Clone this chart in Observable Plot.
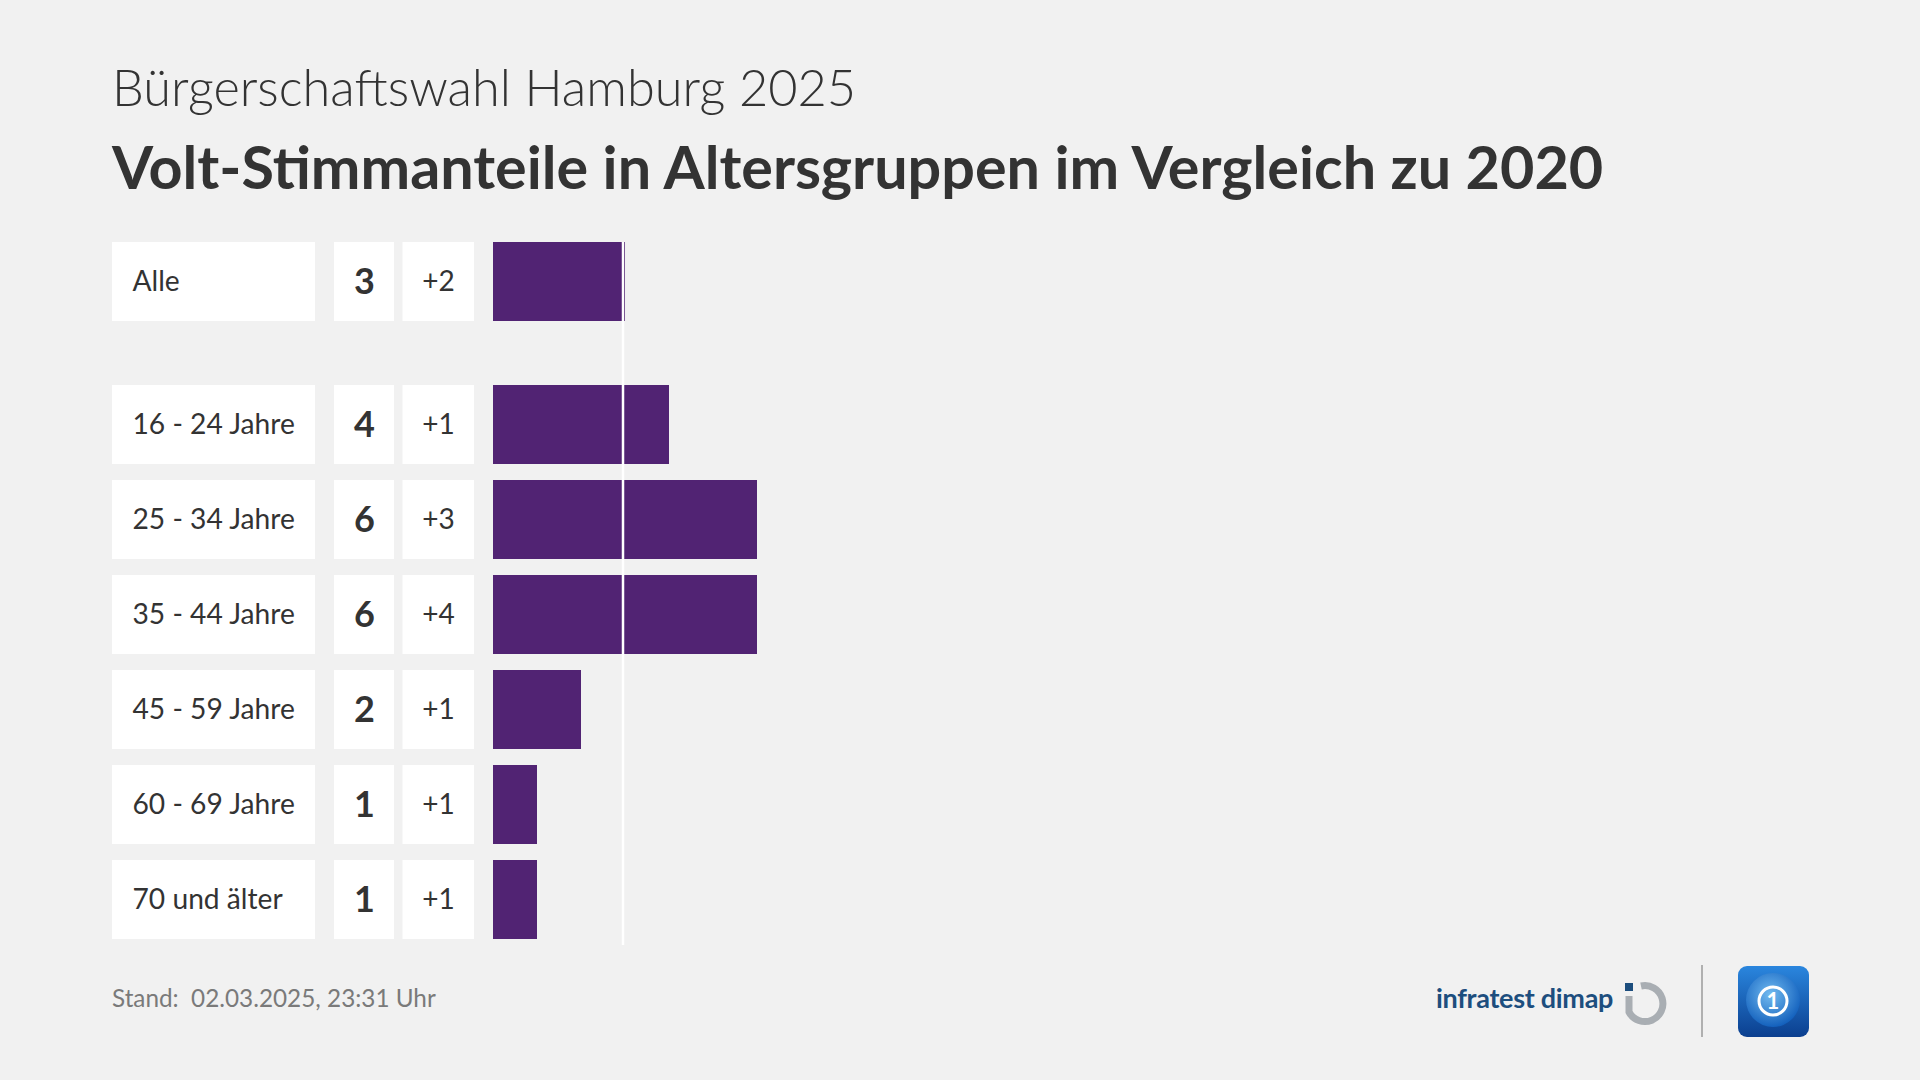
<!DOCTYPE html>
<html>
<head>
<meta charset="utf-8">
<script src="https://cdn.jsdelivr.net/npm/d3@7"></script>
<script src="https://cdn.jsdelivr.net/npm/@observablehq/plot@0.6"></script>
<style>
  html, body { margin: 0; padding: 0; background: #f1f1f1; }
  #page { position: relative; width: 1920px; height: 1080px; background: #f1f1f1; overflow: hidden; font-family: Lato, sans-serif; color: #333; }
  .hdr { position: absolute; left: 112px; white-space: nowrap; line-height: 1; margin: 0; }
  #sub { top: 62px; font-size: 50.5px; font-weight: 300; color: #333; }
  #title { top: 137px; font-size: 59.3px; font-weight: 700; color: #333; }
  #chart { position: absolute; left: 0; top: 242px; width: 1920px; }
  #chart svg { display: block; }
  #foot { position: absolute; left: 112px; top: 986px; font-size: 24.3px; color: #7a7a7a; white-space: pre; line-height: 1; }
  #brand { position: absolute; left: 1436px; top: 984px; font-size: 27px; color: #1d4e7e; font-weight: 700; white-space: nowrap; line-height: 1; letter-spacing: -0.3px; }
  #logos { position: absolute; left: 0; top: 0; }
</style>
</head>
<body>
<div id="page">
  <div id="sub" class="hdr">Bürgerschaftswahl Hamburg 2025</div>
  <div id="title" class="hdr">Volt-Stimmanteile in Altersgruppen im Vergleich zu 2020</div>
  <div id="chart"></div>
  <div id="foot">Stand:  02.03.2025, 23:31 Uhr</div>
  <div id="brand">infratest dimap</div>
  <svg id="logos" width="1920" height="1080">
    <defs>
      <linearGradient id="tg" x1="0" y1="0" x2="0" y2="1">
        <stop offset="0" stop-color="#2a86de"/>
        <stop offset="1" stop-color="#0b3f8f"/>
      </linearGradient>
      <radialGradient id="globe" cx="0.45" cy="0.4" r="0.6">
        <stop offset="0" stop-color="#7cc4f5"/>
        <stop offset="1" stop-color="#1463c0"/>
      </radialGradient>
    </defs>
    <rect x="1625" y="983" width="8" height="8" fill="#1d4e7e"/>
    <path d="M1629 996 L1629 1012 A18 18 0 1 0 1641 986" fill="none" stroke="#a9aeb3" stroke-width="7"/>
    <line x1="1702" y1="965" x2="1702" y2="1037" stroke="#b0b0b0" stroke-width="2"/>
    <rect x="1738" y="966" width="71" height="71" rx="9" fill="url(#tg)"/>
    <circle cx="1773" cy="1000" r="27" fill="url(#globe)" opacity="0.9"/>
    <circle cx="1773" cy="1001" r="14" fill="none" stroke="white" stroke-width="3"/>
    <text x="1773" y="1009" text-anchor="middle" font-family="Lato" font-weight="700" font-size="22" fill="white">1</text>
  </svg>
</div>
<script>
// ---- data ----
const allLabel = "Alle";
const allShare = 3;
const allChange = 2;
const groups = ["16 - 24 Jahre", "25 - 34 Jahre", "35 - 44 Jahre", "45 - 59 Jahre", "60 - 69 Jahre", "70 und älter"];
const shares = [4, 6, 6, 2, 1, 1];
const changes = [1, 3, 4, 1, 1, 1];

const purple = "#512373";
const ink = "#333333";
const fmtChange = v => (v > 0 ? "+" : "") + v;

const allRows = [{label: allLabel, share: allShare, change: allChange}];
const groupRows = groups.map((g, i) => ({label: g, share: shares[i], change: changes[i]}));

const xScale = {domain: [0, 20], range: [493, 1373], axis: null};

function rowMarks(rows) {
  return [
    // table cells (white boxes) left of the bars
    Plot.barX(rows, {x1: 0, x2: 0, y: "label", insetLeft: -381, insetRight: 178, fill: "white"}),
    Plot.barX(rows, {x1: 0, x2: 0, y: "label", insetLeft: -159, insetRight: 99, fill: "white"}),
    Plot.barX(rows, {x1: 0, x2: 0, y: "label", insetLeft: -90.5, insetRight: 19, fill: "white"}),
    Plot.text(rows, {x: 0, y: "label", text: "label", textAnchor: "start", dx: -361, fontSize: 28.2, fill: ink}),
    Plot.text(rows, {x: 0, y: "label", text: d => String(d.share), dx: -129, fontSize: 36, fontWeight: 700, fill: ink}),
    Plot.text(rows, {x: 0, y: "label", text: d => fmtChange(d.change), dx: -55, fontSize: 28, fill: ink}),
    // bars
    Plot.barX(rows, {x1: 0, x2: "share", y: "label", fill: purple}),
    // reference line at overall result
    Plot.ruleX([allShare], {stroke: "white", strokeWidth: 2.5, dx: -2.5})
  ];
}

const style = {background: "transparent", fontFamily: "Lato, sans-serif", overflow: "visible"};

const plotAll = Plot.plot({
  width: 1920, height: 141, margin: 0,
  style,
  x: xScale,
  y: {domain: [allLabel], range: [0, 79.6], padding: 0, axis: null},
  marks: rowMarks(allRows)
});

const plotGroups = Plot.plot({
  width: 1920, height: 562, margin: 0,
  style,
  x: xScale,
  y: {domain: groups, range: [0, 557], paddingInner: 0.17, paddingOuter: 0, axis: null},
  marks: rowMarks(groupRows)
});

const chart = document.getElementById("chart");
chart.appendChild(plotAll);
chart.appendChild(plotGroups);
</script>
</body>
</html>
